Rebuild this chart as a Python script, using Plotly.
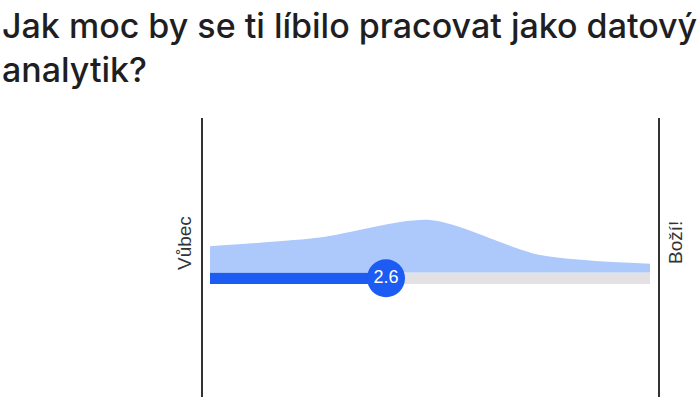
import plotly.graph_objects as go

# Data
title_text = "Jak moc by se ti líbilo pracovat jako datový<br>analytik?"
scale_values = [1, 2, 3, 4, 5]
vote_counts = [3, 4, 6, 2, 1]
mean_value = 2.6
scale_min, scale_max = 1, 5
left_label = "Vůbec"
right_label = "Boží!"

W, H = 700, 401
px_per_unit_x = 110.0
x0_px = 210.0
xr = [scale_min - x0_px / px_per_unit_x, scale_max + (W - 650.0) / px_per_unit_x]
y_zero_px = 272.5
px_per_count = 8.75
yr = [-(H - y_zero_px) / px_per_count, y_zero_px / px_per_count]
bar_h = 11.5 / px_per_count

fig = go.Figure()

# distribution area
fig.add_trace(go.Scatter(
    x=scale_values, y=vote_counts, mode="lines",
    line=dict(shape="spline", smoothing=0.75, width=0, color="#adc8fb"),
    fill="tozeroy", fillcolor="#adc8fb", hoverinfo="skip", showlegend=False))

# bar: filled and remaining
fig.add_trace(go.Bar(
    y=[-bar_h / 2], x=[mean_value - scale_min], base=[scale_min], width=[bar_h],
    orientation="h", marker=dict(color="#1c5cf2", line=dict(width=0)), showlegend=False))
fig.add_trace(go.Bar(
    y=[-bar_h / 2], x=[scale_max - mean_value], base=[mean_value], width=[bar_h],
    orientation="h", marker=dict(color="#e3e1e4", line=dict(width=0)), showlegend=False))

# mean marker
fig.add_trace(go.Scatter(
    x=[mean_value], y=[-bar_h / 2], mode="markers+text",
    marker=dict(size=38, color="#1c5cf2", line=dict(width=0)),
    text=[f"{mean_value:.1f}"], textposition="middle center",
    textfont=dict(color="white", size=18, family="Liberation Sans, Arial, sans-serif"),
    showlegend=False))

# scale end lines
for xv in [scale_min - 8 / px_per_unit_x, scale_max + 9 / px_per_unit_x]:
    fig.add_shape(type="line", xref="x", yref="paper", x0=xv, x1=xv,
                  y0=1 - 397 / H, y1=1 - 118 / H,
                  line=dict(color="#333333", width=2))

for lbl, xp in [(left_label, 184), (right_label, 675)]:
    fig.add_annotation(x=xp / W, y=1 - 243 / H, xref="paper", yref="paper",
                       xanchor="center", yanchor="middle",
                       text=lbl, textangle=-90, showarrow=False,
                       font=dict(size=19, color="#333333", family="Liberation Sans, Arial, sans-serif"))

fig.add_annotation(x=0, y=1 - 3 / H, xref="paper", yref="paper", xanchor="left", yanchor="top",
                   text=title_text, showarrow=False, align="left",
                   font=dict(size=34, color="#1e1e23", family="Inter", weight=500))

fig.update_layout(
    width=W, height=H, margin=dict(l=0, r=0, t=0, b=0),
    paper_bgcolor="white", plot_bgcolor="white", barmode="overlay",
    xaxis=dict(range=xr, visible=False, fixedrange=True),
    yaxis=dict(range=yr, visible=False, fixedrange=True),
)

fig.write_html("out.html")
